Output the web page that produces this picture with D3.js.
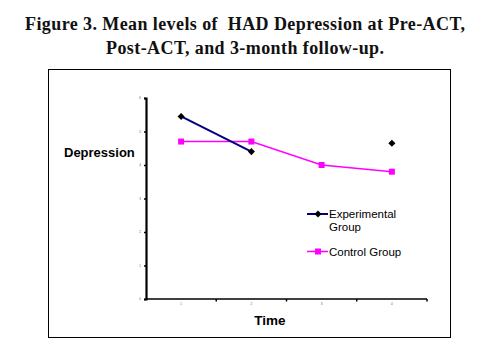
<!DOCTYPE html>
<html>
<head>
<meta charset="utf-8">
<script src="https://cdn.jsdelivr.net/npm/d3@7"></script>
<style>
  body { margin: 0; background: #fff; }
  svg { display: block; }
</style>
</head>
<body>
<div id="chart"></div>
<script>
// values
const times = ['1', '2', '3', '4']
const experimental = [5.45, 4.4, null, 4.65]
const control = [4.7, 4.7, 4.0, 3.8]
const yTicks = [0, 1, 2, 3, 4, 5, 6]
const titleLines = ['Figure 3. Mean levels of\u00a0 HAD Depression at Pre-ACT,', 'Post-ACT, and 3-month follow-up.']
const titleWidths = [440, 278]

const width = 490
const height = 344
const svg = d3.select('#chart').append('svg').attr('width', width).attr('height', height)

svg.selectAll('text.title')
  .data(titleLines)
  .enter()
  .append('text')
  .attr('class', 'title')
  .attr('x', 245)
  .attr('y', (d, i) => 30 + i * 24)
  .attr('text-anchor', 'middle')
  .attr('font-family', 'Liberation Serif, serif')
  .attr('font-weight', 'bold')
  .attr('font-size', 18)
  .attr('textLength', (d, i) => titleWidths[i])
  .attr('lengthAdjust', 'spacing')
  .attr('fill', '#111')
  .text(d => d)

// frame round the chart
svg.append('rect')
  .attr('x', 48.5).attr('y', 69.5)
  .attr('width', 402).attr('height', 268)
  .attr('fill', 'none').attr('stroke', '#000').attr('stroke-width', 1)

const plot = { left: 146, right: 427, top: 98, bottom: 299 }

const x = d3.scaleBand().domain(times).range([plot.left, plot.right])
const y = d3.scaleLinear().domain([0, 6]).range([plot.bottom, plot.top])

// y axis
const yAxis = svg.append('g')
  .attr('transform', `translate(${plot.left},0)`)
  .call(d3.axisLeft(y).tickValues(yTicks).tickSize(2).tickPadding(3).tickFormat(d3.format('d')))
yAxis.select('.domain').attr('stroke-width', 2.2)
yAxis.selectAll('.tick line').attr('stroke-width', 1.5)
yAxis.selectAll('text').attr('font-size', 3).attr('fill', '#557').attr('font-family', 'Liberation Sans, Arial, sans-serif')

// x axis, ticks on category boundaries
const xAxis = svg.append('g')
  .attr('transform', `translate(0,${plot.bottom})`)
xAxis.append('line')
  .attr('x1', plot.left).attr('x2', plot.right)
  .attr('stroke', '#000').attr('stroke-width', 1.6)
xAxis.selectAll('line.tick')
  .data(times)
  .enter()
  .append('line')
  .attr('class', 'tick')
  .attr('x1', d => x(d) + x.bandwidth()).attr('x2', d => x(d) + x.bandwidth())
  .attr('y1', 0).attr('y2', 2.5)
  .attr('stroke', '#000').attr('stroke-width', 1.5)
xAxis.selectAll('text')
  .data(times)
  .enter()
  .append('text')
  .attr('x', d => x(d) + x.bandwidth() / 2)
  .attr('y', 6)
  .attr('text-anchor', 'middle')
  .attr('font-size', 3)
  .attr('fill', '#557')
  .attr('font-family', 'Liberation Sans, Arial, sans-serif')
  .text(d => d)

const cx = (d, i) => x(times[i]) + x.bandwidth() / 2

// axis titles
svg.append('text')
  .attr('x', 64).attr('y', 157)
  .attr('font-family', 'Liberation Sans, Arial, sans-serif')
  .attr('font-weight', 'bold').attr('font-size', 13)
  .text('Depression')
svg.append('text')
  .attr('x', 270).attr('y', 325)
  .attr('text-anchor', 'middle')
  .attr('font-family', 'Liberation Sans, Arial, sans-serif')
  .attr('font-weight', 'bold').attr('font-size', 13.5)
  .text('Time')

// control group
const line = d3.line().defined(d => d !== null).x(cx).y(d => y(d))
svg.append('path')
  .datum(control)
  .attr('d', line)
  .attr('fill', 'none').attr('stroke', '#ff00ff').attr('stroke-width', 1.5)
svg.selectAll('rect.ctrl')
  .data(control)
  .enter()
  .append('rect')
  .attr('class', 'ctrl')
  .attr('x', (d, i) => cx(d, i) - 3).attr('y', d => y(d) - 3)
  .attr('width', 6).attr('height', 6)
  .attr('fill', '#ff00ff')

// experimental group
svg.append('path')
  .datum(experimental)
  .attr('d', line)
  .attr('fill', 'none').attr('stroke', '#000080').attr('stroke-width', 2)
const diamond = d3.symbol().type(d3.symbolDiamond2).size(32)
svg.selectAll('path.exp')
  .data(experimental.map((v, i) => ({ v, i })).filter(d => d.v !== null))
  .enter()
  .append('path')
  .attr('class', 'exp')
  .attr('transform', d => `translate(${cx(d.v, d.i)},${y(d.v)})`)
  .attr('d', diamond)
  .attr('fill', '#000')

// legend
const legend = svg.append('g').attr('font-family', 'Liberation Sans, Arial, sans-serif').attr('font-size', 11.5)
legend.append('line').attr('x1', 307).attr('x2', 328).attr('y1', 214).attr('y2', 214)
  .attr('stroke', '#000080').attr('stroke-width', 2)
legend.append('path').attr('transform', 'translate(318,214)').attr('d', diamond).attr('fill', '#000')
legend.append('text').attr('x', 329).attr('y', 218).text('Experimental')
legend.append('text').attr('x', 329).attr('y', 231).text('Group')
legend.append('line').attr('x1', 307).attr('x2', 328).attr('y1', 251.5).attr('y2', 251.5)
  .attr('stroke', '#ff00ff').attr('stroke-width', 1.5)
legend.append('rect').attr('x', 315).attr('y', 248.5).attr('width', 6).attr('height', 6).attr('fill', '#ff00ff')
legend.append('text').attr('x', 329).attr('y', 255.5).text('Control Group')
</script>
</body>
</html>
